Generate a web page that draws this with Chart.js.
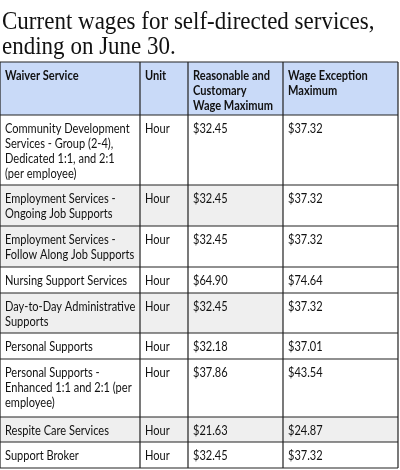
<!DOCTYPE html>
<html>
<head>
<meta charset="utf-8">
<script src="https://cdn.jsdelivr.net/npm/chart.js@4"></script>
<style>
  html, body { margin: 0; padding: 0; background: #fff; }
  #wrap { width: 400px; height: 470px; position: relative; }
</style>
</head>
<body>
<div id="wrap"><canvas id="table-chart"></canvas></div>
<script>
const title = ['Current wages for self-directed services,', 'ending on June 30.'];
const headers = [['Waiver Service'], ['Unit'], ['Reasonable and', 'Customary', 'Wage Maximum'], ['Wage Exception', 'Maximum']];
const services = [
  ['Community Development', 'Services - Group (2-4),', 'Dedicated 1:1, and 2:1', '(per employee)'],
  ['Employment Services -', 'Ongoing Job Supports'],
  ['Employment Services -', 'Follow Along Job Supports'],
  ['Nursing Support Services'],
  ['Day-to-Day Administrative', 'Supports'],
  ['Personal Supports'],
  ['Personal Supports -', 'Enhanced 1:1 and 2:1 (per', 'employee)'],
  ['Respite Care Services'],
  ['Support Broker'],
];
const units = ['Hour', 'Hour', 'Hour', 'Hour', 'Hour', 'Hour', 'Hour', 'Hour', 'Hour'];
const wageMax = [32.45, 32.45, 32.45, 64.90, 32.45, 32.18, 37.86, 21.63, 32.45];
const exceptionMax = [37.32, 37.32, 37.32, 74.64, 37.32, 37.01, 43.54, 24.87, 37.32];

// layout (pixels)
const colEdges = [0, 140, 188, 283, 398];
const rowEdges = [62, 115, 185, 226, 267, 293, 333, 359, 417, 442, 468];
// which cells of each body row are shaded grey (as in the scan)
const shaded = [
  [0, 0, 0, 0], [1, 1, 1, 0], [1, 0, 0, 0], [0, 0, 0, 0], [1, 1, 1, 0],
  [0, 0, 0, 0], [0, 0, 0, 0], [1, 1, 1, 1], [0, 0, 0, 0],
];

const tablePlugin = {
  id: 'tableDraw',
  afterDraw(chart) {
    const { ctx, scales: { x, y } } = chart;
    const px = v => x.getPixelForValue(v);
    const py = v => y.getPixelForValue(v);
    // Calibri-ish: squeeze the wider installed fonts horizontally
    const text = (t, tx, ty, squeeze) => ctx.fillText(t, tx, ty, ctx.measureText(t).width * squeeze);
    ctx.save();
    ctx.textBaseline = 'top';
    ctx.fillStyle = '#111';
    ctx.font = '26px "Liberation Serif"';
    title.forEach((t, i) => text(t, px(2), py(9 + i * 25), 0.885));

    // header background
    ctx.fillStyle = '#c9daf8';
    ctx.fillRect(px(0), py(rowEdges[0]), px(colEdges[4]) - px(0), py(rowEdges[1]) - py(rowEdges[0]));
    // body shading
    ctx.fillStyle = '#efefef';
    shaded.forEach((r, i) => r.forEach((s, c) => {
      if (s) ctx.fillRect(px(colEdges[c]), py(rowEdges[i + 1]), px(colEdges[c + 1]) - px(colEdges[c]), py(rowEdges[i + 2]) - py(rowEdges[i + 1]));
    }));

    const cellText = (lines, c, r, bold) => {
      ctx.fillStyle = '#111';
      ctx.font = (bold ? 'bold ' : '') + '13px Lato';
      lines.forEach((l, k) => text(l, px(colEdges[c] + 5), py(rowEdges[r] + 7 + k * 15), 0.85));
    };
    headers.forEach((h, c) => cellText(h, c, 0, true));
    services.forEach((s, i) => {
      cellText(s, 0, i + 1);
      cellText([units[i]], 1, i + 1);
      cellText(['$' + wageMax[i].toFixed(2)], 2, i + 1);
      cellText(['$' + exceptionMax[i].toFixed(2)], 3, i + 1);
    });

    // grid lines
    ctx.strokeStyle = '#222';
    ctx.lineWidth = 1.2;
    ctx.beginPath();
    rowEdges.forEach(r => { ctx.moveTo(px(colEdges[0]), py(r)); ctx.lineTo(px(colEdges[4]), py(r)); });
    colEdges.forEach(c => { ctx.moveTo(px(c), py(rowEdges[0])); ctx.lineTo(px(c), py(rowEdges[rowEdges.length - 1])); });
    ctx.stroke();
    ctx.restore();
  },
};

new Chart(document.getElementById('table-chart'), {
  type: 'scatter',
  data: { datasets: [{ data: [], pointRadius: 0 }] },
  options: {
    responsive: true,
    maintainAspectRatio: false,
    animation: false,
    layout: { padding: 0 },
    plugins: { legend: { display: false }, tooltip: { enabled: false } },
    scales: {
      x: { type: 'linear', min: 0, max: 400, display: false },
      y: { type: 'linear', min: 0, max: 470, reverse: true, display: false },
    },
  },
  plugins: [tablePlugin],
});
</script>
</body>
</html>
